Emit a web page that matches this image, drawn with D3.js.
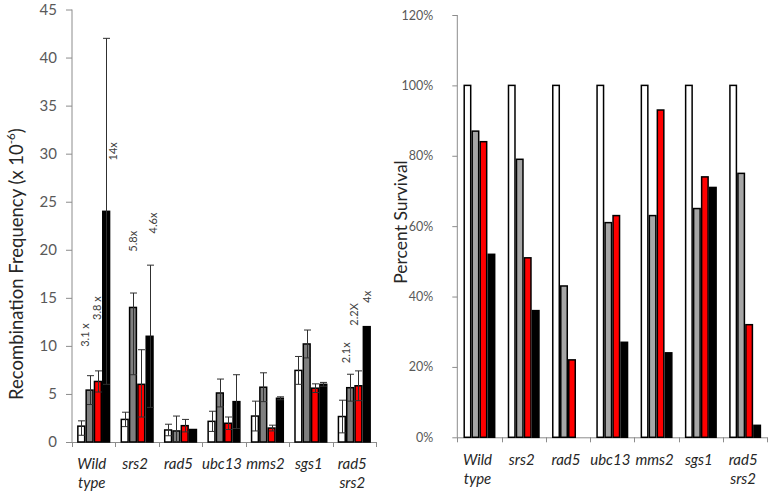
<!DOCTYPE html>
<html><head><meta charset="utf-8">
<script src="https://cdn.jsdelivr.net/npm/d3@7/dist/d3.min.js"></script>
<style>
html,body{margin:0;padding:0;background:#fff;}
svg{display:block;font-family:Lato,"Open Sans",sans-serif;}
</style></head>
<body><svg id="chart" width="771" height="495"></svg>
<script>
// ---------- data ----------
const categories = ["Wild type","srs2","rad5","ubc13","mms2","sgs1","rad5 srs2"];
const categoryLines = [["Wild","type"],["srs2"],["rad5"],["ubc13"],["mms2"],["sgs1"],["rad5","srs2"]];
const seriesKeys = ["white","gray","red","black"];

// Recombination frequency (x 10^-6)
const recWhite = [1.65, 2.35, 1.25, 2.15, 2.7, 7.45, 2.65];
const recGray  = [5.4, 14.0, 1.15, 5.1, 5.7, 10.2, 5.65];
const recRed   = [6.3, 6.0, 1.7, 1.95, 1.45, 5.6, 5.85];
const recBlack = [24.0, 11.0, 1.3, 4.2, 4.55, 6.0, 12.0];
// error bars (plus / minus)
const errWhitePlus  = [0.55, 0.75, 0.6, 1.05, 1.55, 1.45, 1.7];
const errWhiteMinus = [0.95, 0.75, 0.6, 1.05, 1.55, 1.45, 1.7];
const errGrayPlus   = [1.5, 1.5, 1.55, 1.45, 1.5, 1.45, 1.4];
const errGrayMinus  = [1.5, 7.0, 1.15, 1.45, 1.5, 1.45, 1.4];
const errRedPlus    = [1.1, 3.6, 0.65, 0.65, 0.3, 0.45, 1.55];
const errRedMinus   = [1.1, 3.4, 0.65, 0.65, 0.3, 0.45, 1.55];
const errBlackPlus  = [18.0, 7.4, 0, 2.8, 0.15, 0.2, 0];
const errBlackMinus = [18.0, 7.4, 0, 2.8, 0.15, 0.2, 0];
const recTicks = [0,5,10,15,20,25,30,35,40,45];

// fold-change annotations: category index, series, text, baseline value
const annoCat    = [0, 0, 0, 1, 1, 6, 6, 6];
const annoSeries = ["gray","red","black","gray","black","gray","red","black"];
const annoText   = ["3.1 x","3.8 x","14x","5.8x","4.6x","2.1x","2.2X","4x"];
const annoValue  = [9.9, 12.7, 29.3, 19.8, 21.7, 8.2, 12.1, 14.5];

// Percent survival
const survWhite = [100, 100, 100, 100, 100, 100, 100];
const survGray  = [87, 79, 43, 61, 63, 65, 75];
const survRed   = [84, 51, 22, 63, 93, 74, 32];
const survBlack = [52, 36, 0, 27, 24, 71, 3.4];
const survTicks = [0,20,40,60,80,100,120];

// ---------- styles ----------
const leftColors  = {white:"#ffffff", gray:"#7f7f7f", red:"#ff0000", black:"#000000"};
const rightColors = {white:"#ffffff", gray:"#a6a6a6", red:"#ff0000", black:"#000000"};
const annoDx = [-5, -1.5, 6.5, 0, 3, -5, -5, 0];

const svg = d3.select("#chart");

function drawChart(opts){
  const g = svg.append("g");
  const x = d3.scaleBand().domain(categories).range([opts.x0, opts.x1])
      .paddingInner(opts.pad).paddingOuter(opts.pad/2);
  const xs = d3.scaleBand().domain(seriesKeys).range([0, x.bandwidth()]);
  const y = d3.scaleLinear().domain(opts.domain).range([opts.y0, opts.y1]);

  // y axis
  const yAxis = d3.axisLeft(y).tickValues(opts.ticks).tickSize(opts.tickSize)
      .tickPadding(opts.tickPad).tickFormat(opts.fmt);
  const ya = g.append("g").attr("transform",`translate(${opts.x0},0)`).call(yAxis);
  ya.select(".domain").attr("stroke","#8c8c8c").attr("d",`M-0.5,${opts.y0}V${opts.y1}`).attr("transform","translate(0.5,0)");
  ya.selectAll(".tick line").attr("stroke","#8c8c8c");
  ya.selectAll(".tick text").attr("fill","#595959").style("font-size",opts.tickFont+"px")
     .style("font-family","Lato,sans-serif");

  // x axis line + category boundary ticks
  g.append("line").attr("x1",opts.x0).attr("x2",opts.x1).attr("y1",opts.y0+0.5).attr("y2",opts.y0+0.5)
    .attr("stroke","#8c8c8c");
  const step = x.step();
  const bounds = categories.map(c => x(c) - step*opts.pad/2).concat([opts.x1]);
  g.selectAll(".xt").data(bounds).enter().append("line")
    .attr("x1",d=>Math.round(d)+0.5).attr("x2",d=>Math.round(d)+0.5)
    .attr("y1",opts.y0).attr("y2",opts.y0+5).attr("stroke","#8c8c8c");

  // bars
  seriesKeys.forEach((s,si)=>{
    const vals = opts.values[si];
    g.selectAll(".bar-"+s).data(categories.filter((c,i)=>vals[i]>0)).enter().append("rect")
      .attr("x", c=> x(c)+xs(s)+0.75)
      .attr("width", xs.bandwidth()-1.5)
      .attr("y", c=> y(vals[categories.indexOf(c)]))
      .attr("height", c=> opts.y0 - y(vals[categories.indexOf(c)]))
      .attr("fill", opts.colors[s]).attr("stroke","#000").attr("stroke-width",1.5);
  });

  // error bars
  if(opts.errPlus){
    seriesKeys.forEach((s,si)=>{
      const vals = opts.values[si], ep = opts.errPlus[si], em = opts.errMinus[si];
      categories.forEach((c,i)=>{
        if(!(ep[i]>0)) return;
        const cx = Math.round(x(c)+xs(s)+xs.bandwidth()/2)+0.5;
        const hi = y(vals[i]+ep[i]);
        const lo = y(Math.max(0, vals[i]-em[i]));
        g.append("line").attr("x1",cx).attr("x2",cx).attr("y1",hi).attr("y2",lo)
          .attr("stroke","#303030").attr("stroke-width",1);
        [hi,lo].forEach(yy=>{
          g.append("line").attr("x1",cx-3.5).attr("x2",cx+3.5).attr("y1",yy).attr("y2",yy)
            .attr("stroke","#303030").attr("stroke-width",1);
        });
      });
    });
  }

  // x labels
  categories.forEach((c,i)=>{
    const t = g.append("text").attr("x", x(c)+x.bandwidth()/2 - 2).attr("y", opts.labelY)
      .attr("text-anchor","middle").style("font-style","italic").style("font-size","15px")
      .attr("fill","#262626");
    categoryLines[i].forEach((ln,k)=>{
      t.append("tspan").attr("x", x(c)+x.bandwidth()/2 - 2).attr("dy", k===0?0:19).text(ln);
    });
  });

  return {g,x,xs,y};
}

// ---------- left chart ----------
const L = drawChart({
  x0:72, x1:376, y0:442, y1:9.5, pad:0.235, domain:[0,45], ticks:recTicks,
  tickSize:6, tickPad:9, tickFont:15, fmt:d3.format("d"),
  values:[recWhite,recGray,recRed,recBlack],
  errPlus:[errWhitePlus,errGrayPlus,errRedPlus,errBlackPlus],
  errMinus:[errWhiteMinus,errGrayMinus,errRedMinus,errBlackMinus],
  colors:leftColors, labelY:469
});

// annotations
annoText.forEach((t,i)=>{
  const c = categories[annoCat[i]], s = annoSeries[i];
  const cx = L.x(c) + L.xs(s) + L.xs.bandwidth()/2 + annoDx[i];
  const cy = L.y(annoValue[i]);
  svg.append("text").attr("transform",`translate(${cx},${cy}) rotate(-90)`)
    .attr("dominant-baseline","central").attr("text-anchor","start")
    .style("font-size","11px").attr("fill","#404040").text(t);
});

// left y title
const lt = svg.append("text").attr("transform","translate(16,400) rotate(-90)")
  .attr("text-anchor","start").attr("dominant-baseline","central")
  .style("font-size","18.5px").attr("fill","#262626");
lt.append("tspan").text("Recombination Frequency (x 10");
lt.append("tspan").attr("dy",-6).style("font-size","11.5px").text("-6");
lt.append("tspan").attr("dy",6).text(")");

// ---------- right chart ----------
drawChart({
  x0:457.3, x1:767.3, y0:437.3, y1:15, pad:0.278, domain:[0,120], ticks:survTicks,
  tickSize:5, tickPad:19, tickFont:12.5, fmt:d=>d+"%",
  values:[survWhite,survGray,survRed,survBlack],
  colors:rightColors, labelY:465
});

svg.append("text").attr("transform","translate(400,222) rotate(-90)")
  .attr("text-anchor","middle").attr("dominant-baseline","central")
  .style("font-size","17.5px").attr("fill","#262626").text("Percent Survival");
</script>
</body></html>
